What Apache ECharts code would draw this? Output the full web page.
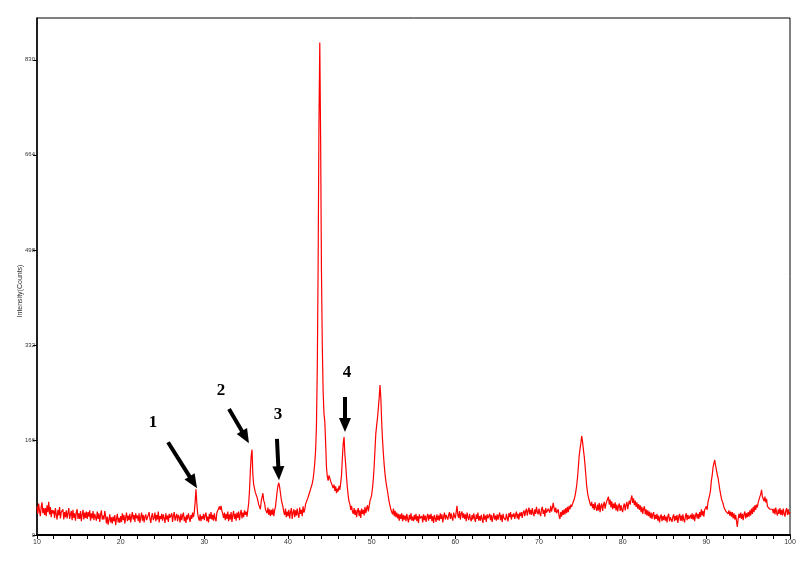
<!DOCTYPE html>
<html>
<head>
<meta charset="utf-8">
<script src="https://cdn.jsdelivr.net/npm/echarts@6/dist/echarts.min.js"></script>
<style>html,body{margin:0;padding:0;background:#fff}#c{width:807px;height:572px}</style>
</head>
<body>
<div id="c"></div>
<script>
// 2θ sampling of the scan
const twoThetaStart = 10;
const twoThetaStep = 0.1;
// Intensity (counts), one row per degree (x.0 ... x.9)
const counts = [
50,37,55,42,33,49,57,38,47,35,
47,33,52,40,58,36,49,31,44,38,
43,30,47,36,27,44,34,49,29,40,
38,45,27,40,31,43,29,38,47,28,
36,42,26,44,30,38,25,40,45,28,
38,28,42,24,36,44,27,39,30,41,
28,40,32,43,25,38,29,42,26,37,
35,25,41,28,38,23,36,43,27,34,
27,42,33,20,32,18,27,36,22,31,
20,32,24,35,17,28,37,22,30,21,
33,23,38,26,35,20,31,39,24,34,
26,37,22,32,40,27,35,23,38,29,
34,24,38,21,31,39,25,35,22,32,
36,26,23,35,40,28,21,33,38,26,
30,39,24,35,27,41,22,33,28,37,
25,36,29,21,38,27,34,23,37,30,
27,38,23,34,40,25,32,37,24,35,
31,22,37,26,34,39,24,32,21,35,
27,38,30,23,35,28,39,31,40,57,
80,56,38,30,25,36,24,33,28,37,
26,35,39,24,32,22,37,28,40,27,
35,25,38,28,24,39,42,37,50,44,
51,42,37,30,39,26,37,28,41,24,
36,27,40,23,35,42,28,37,25,39,
30,41,26,37,44,29,39,31,43,35,
41,32,44,55,78,112,138,149,105,88,
85,74,73,66,68,53,54,45,59,66,
73,60,56,45,46,38,48,35,45,33,
44,35,46,33,43,49,62,76,86,91,
84,73,62,55,49,40,35,46,31,41,
33,44,29,40,47,28,39,45,31,43,
34,46,36,30,48,37,44,33,50,39,
44,54,57,53,66,68,64,80,83,90,
98,110,126,148,190,290,470,720,860,690,
460,330,250,212,198,160,118,102,95,104,
103,94,90,87,82,88,77,85,73,81,
76,86,79,91,105,135,160,171,140,122,
100,82,68,58,54,44,51,41,37,47,
35,44,31,42,47,33,43,30,46,37,
44,34,49,38,46,52,41,50,60,64,
70,82,98,120,150,178,192,205,222,240,
262,238,196,166,142,122,106,94,84,76,
66,57,51,44,43,36,46,33,42,31,
39,29,37,25,36,28,38,24,35,27,
34,24,37,28,22,35,27,38,25,32,
24,35,27,37,24,33,21,36,29,26,
33,22,36,26,34,23,31,37,25,35,
28,37,24,33,21,35,29,23,36,26,
34,25,38,28,36,22,32,39,27,35,
37,27,35,40,28,38,30,25,39,33,
29,40,51,35,30,42,27,37,41,30,
38,28,36,24,39,31,26,37,29,24,
35,27,38,29,23,36,28,39,25,33,
25,35,28,21,37,27,34,23,36,29,
32,37,26,35,23,31,38,27,34,25,
36,27,34,39,26,35,23,37,30,28,
26,37,30,24,38,31,40,27,36,32,
38,28,35,41,29,37,27,39,33,40,
30,39,43,33,41,46,34,42,48,36,
44,35,47,38,33,45,37,49,40,36,
46,38,33,45,49,37,44,32,47,39,
36,46,49,39,51,41,48,56,47,40,
48,38,35,45,33,28,40,32,43,35,
45,36,47,38,49,40,51,45,53,49,
54,58,62,68,76,86,100,118,138,150,
160,173,164,150,138,122,104,86,74,66,
61,55,51,58,47,54,44,57,48,42,
53,43,56,40,51,55,42,52,58,46,
54,59,63,67,53,62,48,59,45,55,
47,57,43,53,41,50,55,42,52,44,
40,50,55,43,52,58,45,54,60,53,
63,69,56,64,52,60,49,57,46,54,
44,52,40,49,37,46,50,36,45,34,
43,33,41,30,39,28,36,40,27,35,
28,37,25,34,22,31,36,24,33,26,
35,25,32,22,33,37,24,31,34,23,
32,36,24,33,26,35,21,32,37,25,
34,24,36,27,22,33,38,26,35,28,
25,35,28,38,27,36,24,34,39,29,
37,28,40,31,45,34,42,32,44,46,
50,44,58,55,70,78,95,104,118,125,
131,122,114,106,100,90,80,72,64,59,
55,49,48,42,43,44,37,43,34,41,
32,40,29,38,27,35,25,14,28,37,
30,39,28,37,26,36,41,29,38,31,
40,32,43,34,46,37,49,40,52,44,
53,48,57,59,67,71,79,67,65,59,
67,57,63,50,48,49,45,47,43,45,
38,46,36,48,39,34,45,37,47,35,
44,34,46,37,32,43,47,35,45,36,
40
];
const xTickLabels = [10, 20, 30, 40, 50, 60, 70, 80, 90, 100];
const yTickLabels = [0, 166, 332, 498, 664, 830];
const yAxisTitle = 'Intensity(Counts)';
// peak annotations: label, label position, arrow start, arrow end (2θ, counts)
const peakNames = ['1', '2', '3', '4'];
const peakLabelAt = [[23.86, 196], [31.99, 252], [38.80, 210], [47.05, 283]];
const arrowFrom = [[25.66, 162], [32.95, 220], [38.68, 168], [46.81, 241]];
const arrowTo = [[28.68, 92], [34.91, 171], [38.88, 108], [46.81, 192]];

const seriesData = counts.map((c, i) => [Math.round((twoThetaStart + i * twoThetaStep) * 10) / 10, c]);

const chart = echarts.init(document.getElementById('c'), null, {renderer: 'canvas'});
const lblFont = 'Liberation Sans, Arial, sans-serif';
chart.setOption({
  animation: false,
  backgroundColor: '#fff',
  grid: {left: 37, right: 17, top: 18, bottom: 37, show: true, borderColor: '#000', borderWidth: 1, backgroundColor: 'transparent'},
  xAxis: {
    type: 'value', min: 10, max: 100, interval: 2,
    axisLine: {show: true, onZero: false, lineStyle: {color: '#000', width: 2}},
    axisTick: {show: true, length: 4, lineStyle: {color: '#000', width: 1}},
    axisLabel: {fontSize: 7, color: '#333', fontFamily: lblFont, margin: 4,
      formatter: v => xTickLabels.indexOf(v) >= 0 ? String(v) : ''},
    splitLine: {show: false}
  },
  yAxis: {
    type: 'value', min: 0, max: 903, interval: 166,
    axisLine: {show: true, lineStyle: {color: '#000', width: 1.5}},
    axisTick: {show: true, length: 4, lineStyle: {color: '#000', width: 1}},
    axisLabel: {fontSize: 6, color: '#333', fontFamily: lblFont, margin: 2, showMaxLabel: false,
      formatter: v => yTickLabels.indexOf(v) >= 0 ? String(v) : ''},
    splitLine: {show: false}
  },
  graphic: [{
    type: 'text', x: 20, y: 291, rotation: Math.PI / 2,
    style: {text: yAxisTitle, fontSize: 7, fill: '#333', font: '7px Liberation Sans, Arial, sans-serif', align: 'center', verticalAlign: 'middle'}
  }],
  series: [{
    type: 'line',
    data: seriesData,
    showSymbol: false,
    symbol: 'none',
    lineStyle: {color: '#ff0000', width: 1.2},
    silent: true,
    markLine: {
      silent: true,
      symbol: ['none', 'triangle'],
      symbolSize: [12, 14],
      label: {show: false},
      lineStyle: {color: '#000', width: 4, type: 'solid'},
      itemStyle: {color: '#000'},
      data: arrowFrom.map((p, i) => [{coord: p}, {coord: arrowTo[i]}])
    },
    markPoint: {
      silent: true,
      symbol: 'circle',
      symbolSize: 1,
      itemStyle: {color: 'rgba(0,0,0,0)'},
      label: {show: true, position: 'inside', color: '#000', fontSize: 17, fontWeight: 'bold', fontFamily: 'Liberation Serif, Times New Roman, serif'},
      data: peakNames.map((n, i) => ({coord: peakLabelAt[i], value: n, label: {formatter: n}}))
    }
  }]
});
</script>
</body>
</html>
